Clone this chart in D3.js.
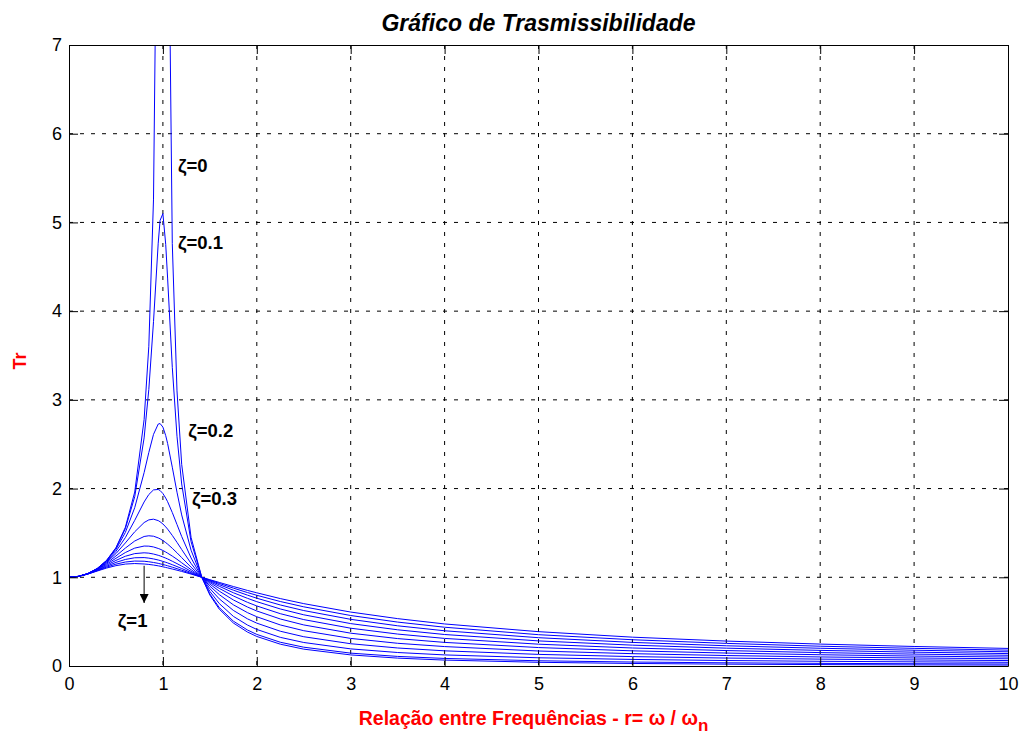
<!DOCTYPE html>
<html>
<head>
<meta charset="utf-8">
<script src="https://cdn.jsdelivr.net/npm/d3@7"></script>
<style>
  body { margin: 0; background: #fff; }
  text { font-family: Arial, "Liberation Sans", sans-serif; }
  .grid line { stroke: #000; stroke-width: 1; stroke-dasharray: 4,7; }
</style>
</head>
<body>
<div id="chart"></div>
<script>
// frequency ratio r = w / wn
const ratio = [0, 0.1, 0.2, 0.3, 0.4, 0.5, 0.6, 0.7, 0.8, 0.85, 0.9, 0.95, 0.97, 1.0, 1.03, 1.05, 1.1, 1.15, 1.2, 1.3, 1.414, 1.5, 1.6, 1.75, 1.9, 2, 2.25, 2.5, 3, 3.5, 4, 5, 6, 7, 8, 9, 10];

// damping factors, one curve each
const zetas = [0, 0.1, 0.2, 0.3, 0.4, 0.5, 0.6, 0.7, 0.8, 0.9, 1.0];

// transmissibility (null = off the top of the plot)
const tr00 = [1, 1.010, 1.042, 1.099, 1.190, 1.333, 1.563, 1.961, 2.778, 3.604, 5.263, 10.26, 16.92, null, 16.42, 9.756, 4.762, 3.101, 2.273, 1.449, 1, 0.800, 0.641, 0.485, 0.383, 0.333, 0.246, 0.190, 0.125, 0.0889, 0.0667, 0.0417, 0.0286, 0.0208, 0.0159, 0.0125, 0.0101];
const tr01 = [1, 1.010, 1.042, 1.098, 1.189, 1.328, 1.547, 1.909, 2.571, 3.117, 3.882, 4.766, 5.023, 5.099, 4.753, 4.373, 3.367, 2.590, 2.052, 1.401, 1, 0.812, 0.659, 0.506, 0.406, 0.356, 0.268, 0.212, 0.145, 0.108, 0.0853, 0.0589, 0.0446, 0.0358, 0.0299, 0.0257, 0.0226];
const tr02 = [1, 1.010, 1.041, 1.097, 1.184, 1.314, 1.505, 1.785, 2.180, 2.407, 2.611, 2.727, 2.733, 2.693, 2.597, 2.509, 2.241, 1.959, 1.703, 1.305, 1, 0.841, 0.704, 0.560, 0.462, 0.412, 0.323, 0.265, 0.193, 0.152, 0.125, 0.0928, 0.0741, 0.0618, 0.0531, 0.0467, 0.0416];
const tr03 = [1, 1.010, 1.041, 1.095, 1.177, 1.292, 1.447, 1.642, 1.849, 1.933, 1.985, 1.990, 1.978, 1.944, 1.893, 1.852, 1.730, 1.595, 1.460, 1.218, 1, 0.873, 0.757, 0.627, 0.532, 0.483, 0.392, 0.330, 0.251, 0.203, 0.171, 0.131, 0.106, 0.0896, 0.0776, 0.0685, 0.0613];
const tr04 = [1, 1.010, 1.040, 1.093, 1.168, 1.267, 1.387, 1.513, 1.617, 1.647, 1.655, 1.639, 1.626, 1.601, 1.568, 1.543, 1.472, 1.394, 1.313, 1.156, 1, 0.901, 0.805, 0.690, 0.602, 0.555, 0.463, 0.398, 0.311, 0.256, 0.219, 0.169, 0.139, 0.118, 0.102, 0.0905, 0.0812];
const tr05 = [1, 1.010, 1.040, 1.090, 1.158, 1.240, 1.329, 1.409, 1.460, 1.468, 1.463, 1.444, 1.434, 1.414, 1.391, 1.374, 1.327, 1.276, 1.222, 1.114, 1, 0.923, 0.844, 0.745, 0.665, 0.620, 0.530, 0.463, 0.370, 0.309, 0.266, 0.208, 0.171, 0.146, 0.127, 0.112, 0.101];
const tr06 = [1, 1.010, 1.039, 1.086, 1.147, 1.214, 1.279, 1.329, 1.352, 1.351, 1.342, 1.325, 1.317, 1.302, 1.285, 1.272, 1.239, 1.203, 1.164, 1.086, 1, 0.940, 0.875, 0.790, 0.718, 0.677, 0.590, 0.523, 0.426, 0.360, 0.311, 0.246, 0.203, 0.174, 0.151, 0.134, 0.121];
const tr07 = [1, 1.010, 1.038, 1.082, 1.135, 1.190, 1.237, 1.267, 1.276, 1.272, 1.262, 1.248, 1.241, 1.229, 1.216, 1.207, 1.181, 1.154, 1.126, 1.067, 1, 0.952, 0.899, 0.826, 0.763, 0.725, 0.643, 0.577, 0.478, 0.408, 0.355, 0.283, 0.235, 0.201, 0.176, 0.156, 0.140];
const tr08 = [1, 1.010, 1.037, 1.078, 1.124, 1.168, 1.201, 1.220, 1.222, 1.216, 1.207, 1.195, 1.189, 1.179, 1.169, 1.162, 1.142, 1.121, 1.099, 1.053, 1, 0.961, 0.917, 0.855, 0.799, 0.764, 0.688, 0.625, 0.526, 0.453, 0.397, 0.319, 0.266, 0.228, 0.200, 0.178, 0.160];
const tr09 = [1, 1.010, 1.036, 1.074, 1.114, 1.148, 1.172, 1.183, 1.181, 1.175, 1.167, 1.157, 1.152, 1.144, 1.136, 1.130, 1.114, 1.097, 1.080, 1.043, 1, 0.968, 0.931, 0.878, 0.828, 0.797, 0.727, 0.667, 0.569, 0.495, 0.437, 0.353, 0.296, 0.255, 0.223, 0.199, 0.179];
const tr10 = [1, 1.010, 1.036, 1.070, 1.104, 1.131, 1.149, 1.155, 1.150, 1.145, 1.138, 1.129, 1.125, 1.118, 1.111, 1.106, 1.093, 1.080, 1.066, 1.036, 1, 0.973, 0.942, 0.896, 0.852, 0.825, 0.760, 0.703, 0.608, 0.534, 0.474, 0.387, 0.325, 0.281, 0.247, 0.220, 0.198];

const curves = [tr00, tr01, tr02, tr03, tr04, tr05, tr06, tr07, tr08, tr09, tr10];

const xTicks = [0, 1, 2, 3, 4, 5, 6, 7, 8, 9, 10];
const yTicks = [0, 1, 2, 3, 4, 5, 6, 7];

// curve labels, in data units
const labels = [
  { text: "ζ=0",   r: 1.16, tr: 5.57 },
  { text: "ζ=0.1", r: 1.16, tr: 4.70 },
  { text: "ζ=0.2", r: 1.27, tr: 2.58 },
  { text: "ζ=0.3", r: 1.31, tr: 1.81 },
  { text: "ζ=1",   r: 0.52, tr: 0.44 }
];

const W = 1023, H = 736;
const margin = { top: 45, right: 15, bottom: 70, left: 69 };
const innerW = W - margin.left - margin.right;
const innerH = H - margin.top - margin.bottom;

const svg = d3.select("#chart").append("svg")
  .attr("width", W)
  .attr("height", H);

const x = d3.scaleLinear().domain([0, 10]).range([0, innerW]);
const y = d3.scaleLinear().domain([0, 7]).range([innerH, 0]);

const g = svg.append("g")
  .attr("transform", `translate(${margin.left},${margin.top})`);

// grid
g.append("g").attr("class", "grid")
  .selectAll("line").data(xTicks.slice(1, -1)).join("line")
  .attr("x1", d => x(d)).attr("x2", d => x(d))
  .attr("y1", 0).attr("y2", innerH);
g.append("g").attr("class", "grid")
  .selectAll("line").data(yTicks.slice(1, -1)).join("line")
  .attr("x1", 0).attr("x2", innerW)
  .attr("y1", d => y(d)).attr("y2", d => y(d));

// curves
svg.append("clipPath").attr("id", "clip")
  .append("rect").attr("width", innerW).attr("height", innerH);

const line = d3.line()
  .defined(d => d[1] != null)
  .x(d => x(d[0]))
  .y(d => y(d[1]));

g.append("g").attr("clip-path", "url(#clip)")
  .selectAll("path").data(curves).join("path")
  .attr("fill", "none")
  .attr("stroke", "#0000ff")
  .attr("stroke-width", 1)
  .attr("d", vals => line(vals.map((v, i) => [ratio[i], v])));

// axes with inward ticks, box on all sides
const tickFont = g => g.selectAll("text")
  .attr("font-size", 18).attr("fill", "#000")
  .attr("font-family", "Arial, 'Liberation Sans', sans-serif");

g.append("g").attr("transform", `translate(0,${innerH})`)
  .call(d3.axisBottom(x).tickValues(xTicks).tickFormat(d3.format("d"))
    .tickSize(-9).tickPadding(11).tickSizeOuter(0))
  .call(tickFont);
g.append("g")
  .call(d3.axisLeft(y).tickValues(yTicks).tickFormat(d3.format("d"))
    .tickSize(-9).tickPadding(7).tickSizeOuter(0))
  .call(tickFont);
g.append("g")
  .call(d3.axisTop(x).tickValues(xTicks).tickSize(-9).tickFormat("").tickSizeOuter(0));
g.append("g").attr("transform", `translate(${innerW},0)`)
  .call(d3.axisRight(y).tickValues(yTicks).tickSize(-9).tickFormat("").tickSizeOuter(0));
g.selectAll(".domain").attr("stroke", "#000");
g.selectAll(".tick line").attr("stroke", "#000");

// annotations
g.selectAll(".zlabel").data(labels).join("text")
  .attr("class", "zlabel")
  .attr("x", d => x(d.r))
  .attr("y", d => y(d.tr))
  .attr("font-size", 18.5)
  .attr("font-weight", "bold")
  .text(d => d.text);

// arrow pointing toward increasing damping
svg.append("defs").append("marker")
  .attr("id", "head")
  .attr("viewBox", "0 0 10 10")
  .attr("refX", 10).attr("refY", 5)
  .attr("markerWidth", 13).attr("markerHeight", 9)
  .attr("markerUnits", "userSpaceOnUse")
  .attr("orient", "auto")
  .append("path").attr("d", "M0,0L10,5L0,10Z").attr("fill", "#000");

g.append("line")
  .attr("x1", x(0.8)).attr("x2", x(0.8))
  .attr("y1", y(1.13)).attr("y2", y(0.71))
  .attr("stroke", "#000").attr("stroke-width", 1)
  .attr("marker-end", "url(#head)");

// title
svg.append("text")
  .attr("x", margin.left + innerW / 2)
  .attr("y", 31)
  .attr("text-anchor", "middle")
  .attr("font-size", 23)
  .attr("font-weight", "bold")
  .attr("font-style", "italic")
  .text("Gráfico de Trasmissibilidade");

// x label
const xl = svg.append("text")
  .attr("x", margin.left + innerW / 2 - 5)
  .attr("y", 725)
  .attr("text-anchor", "middle")
  .attr("font-size", 19.5)
  .attr("font-weight", "bold")
  .attr("fill", "#ff0000");
xl.append("tspan").text("Relação entre Frequências - r= ");
xl.append("tspan").text("ω");
xl.append("tspan").text(" / ");
xl.append("tspan").text("ω");
xl.append("tspan").attr("dy", 6).attr("font-size", 17).text("n");

// y label
svg.append("text")
  .attr("transform", "translate(26,361) rotate(-90)")
  .attr("text-anchor", "middle")
  .attr("font-size", 18)
  .attr("font-weight", "bold")
  .attr("fill", "#ff0000")
  .text("Tr");
</script>
</body>
</html>
